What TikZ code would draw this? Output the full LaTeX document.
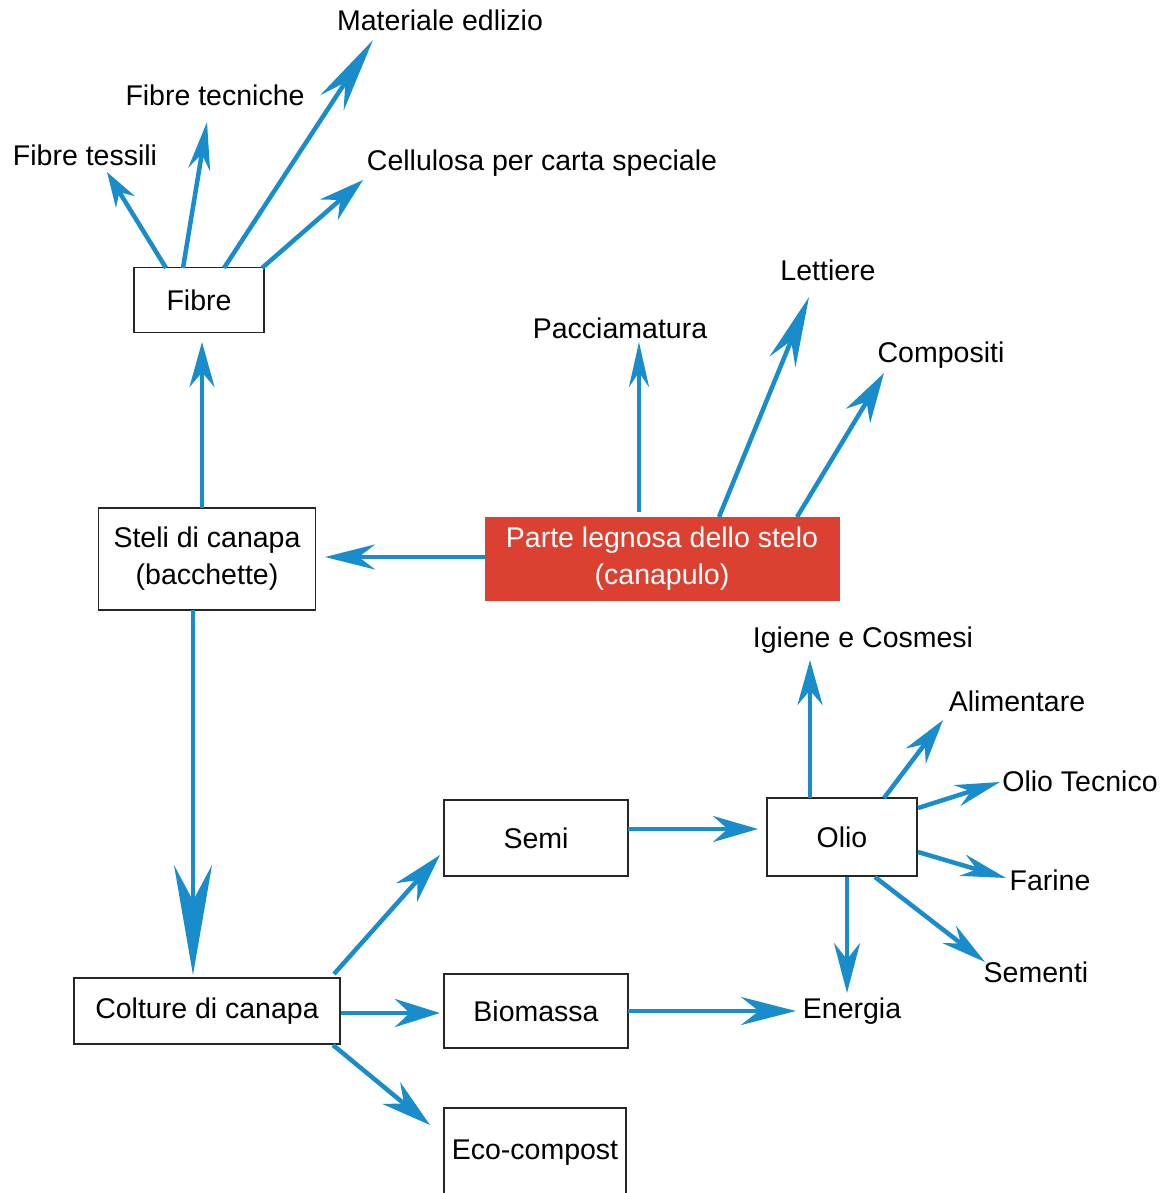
\documentclass[tikz,border=0pt]{standalone}
\usepackage{fontspec}
\setmainfont{Liberation Sans}
\usepackage{tikz}
\usetikzlibrary{arrows.meta}
\definecolor{hblue}{RGB}{25, 141, 204}
\definecolor{hred}{RGB}{219, 64, 48}
\tikzset{box/.style = {draw = black!85, line width = 1.3pt, fill = white, inner sep = 0, align = center}}
\tikzset{lbl/.style = {inner sep = 0}}
\tikzset{flow/.style 2 args = {draw = hblue, line width = 4.5pt, -{Stealth[length = #1pt, width = #2pt]}}}

\begin{document}
\begin{tikzpicture}[x = 1pt, y = -1pt, font = \fontsize{28.5}{37}\selectfont]
      \useasboundingbox (0, 0) rectangle (1167, 1193);

      % boxes
      \node [box, minimum width = 130pt, minimum height = 65pt] (fibre) at (199, 300) {Fibre};
      \node [box, minimum width = 217pt, minimum height = 102pt] (steli) at (207, 559) {Steli di canapa\\(bacchette)};
      \node [box, draw = none, fill = hred, text = white, minimum width = 355pt, minimum height = 84pt] (legno) at (662, 559) {Parte legnosa dello stelo\\(canapulo)};
      \node [box, minimum width = 266pt, minimum height = 66pt] (colture) at (207, 1011) {Colture di canapa};
      \node [box, minimum width = 184pt, minimum height = 76pt] (semi) at (536, 838) {Semi};
      \node [box, minimum width = 184pt, minimum height = 74pt] (biomassa) at (536, 1011) {Biomassa};
      \node [box, minimum width = 182pt, minimum height = 90pt] (eco) at (535, 1153) {Eco-compost};
      \node [box, minimum width = 150pt, minimum height = 78pt] (olio) at (842, 837) {Olio};

      % labels
      \node [lbl] (edilizio) at (440, 20) {Materiale edlizio};
      \node [lbl] (tecniche) at (215, 95) {Fibre tecniche};
      \node [lbl] (tessili) at (85, 155) {Fibre tessili};
      \node [lbl] (cellulosa) at (542, 163) {Cellulosa per carta speciale};
      \node [lbl] (paccia) at (620, 328) {Pacciamatura};
      \node [lbl] (lettiere) at (828, 270) {Lettiere};
      \node [lbl] (compositi) at (941, 355) {Compositi};
      \node [lbl] (igiene) at (863, 640) {Igiene e Cosmesi};
      \node [lbl] (alimentare) at (1017, 701) {Alimentare};
      \node [lbl] (oliotec) at (1080, 781) {Olio Tecnico};
      \node [lbl] (farine) at (1050, 880) {Farine};
      \node [lbl] (sementi) at (1036, 972) {Sementi};
      \node [lbl] (energia) at (852, 1011) {Energia};

      % fibre
      \draw [flow = {35}{22}] ([shift = {(-33, -32)}]fibre.center) -- ([shift = {(22, 17)}]tessili.center);
      \draw [flow = {48}{22}] ([shift = {(-16, -32)}]fibre.center) -- ([shift = {(-8, 27)}]tecniche.center);
      \draw [flow = {75}{28}] ([shift = {(25, -32)}]fibre.center) -- ([shift = {(-67, 20)}]edilizio.center);
      \draw [flow = {45}{27}] ([shift = {(63, -32)}]fibre.center) -- ([shift = {(-179, 17)}]cellulosa.center);

      % steli
      \draw [flow = {45}{25}] ([shift = {(-5, -51)}]steli.center) -- ([shift = {(3, 42)}]fibre.center);
      \draw [flow = {110}{38}] ([shift = {(-14, 51)}]steli.center) -- ([shift = {(-14, -36)}]colture.center);

      % canapulo
      \draw [flow = {50}{25}] ([shift = {(-177, -2)}]legno.center) -- ([shift = {(118, -2)}]steli.center);
      \draw [flow = {45}{20}] ([shift = {(-23, -47)}]legno.center) -- ([shift = {(19, 14)}]paccia.center);
      \draw [flow = {70}{28}] ([shift = {(57, -42)}]legno.center) -- ([shift = {(-19, 27)}]lettiere.center);
      \draw [flow = {50}{28}] ([shift = {(135, -42)}]legno.center) -- ([shift = {(-57, 18)}]compositi.center);

      % colture
      \draw [flow = {50}{28}] ([shift = {(127, -37)}]colture.center) -- ([shift = {(-96, 17)}]semi.center);
      \draw [flow = {45}{28}] ([shift = {(134, 2)}]colture.center) -- ([shift = {(-96, 2)}]biomassa.center);
      \draw [flow = {50}{28}] ([shift = {(126, 34)}]colture.center) -- ([shift = {(-105, -28)}]eco.center);

      % semi, biomassa
      \draw [flow = {45}{26}] ([shift = {(92, -9)}]semi.center) -- ([shift = {(-84, -8)}]olio.center);
      \draw [flow = {55}{28}] ([shift = {(92, 0)}]biomassa.center) -- ([shift = {(-56, 0)}]energia.center);

      % olio
      \draw [flow = {45}{25}] ([shift = {(-32, -39)}]olio.center) -- ([shift = {(-53, 20)}]igiene.center);
      \draw [flow = {45}{25}] ([shift = {(42, -39)}]olio.center) -- ([shift = {(-74, 19)}]alimentare.center);
      \draw [flow = {45}{22}] ([shift = {(76, -29)}]olio.center) -- ([shift = {(-80, 1)}]oliotec.center);
      \draw [flow = {45}{22}] ([shift = {(76, 15)}]olio.center) -- ([shift = {(-44, -2)}]farine.center);
      \draw [flow = {45}{22}] ([shift = {(33, 40)}]olio.center) -- ([shift = {(-51, -10)}]sementi.center);
      \draw [flow = {50}{26}] ([shift = {(5, 40)}]olio.center) -- ([shift = {(-5, -18)}]energia.center);
    \end{tikzpicture}
\end{document}
